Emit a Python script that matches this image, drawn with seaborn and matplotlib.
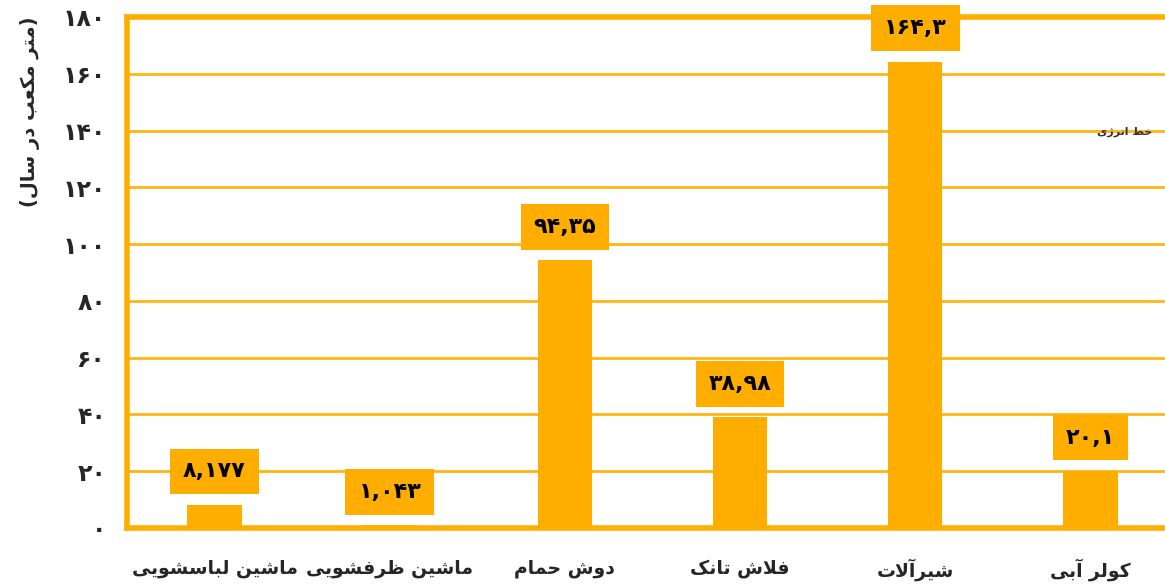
import matplotlib
matplotlib.use("Agg")
import matplotlib.pyplot as plt
import seaborn as sns
import pandas as pd

# داده‌ها
categories = ["ماشین لباسشویی", "ماشین ظرفشویی", "دوش حمام", "فلاش تانک", "شیرآلات", "کولر آبی"]
values = [8.177, 1.043, 94.35, 38.98, 164.3, 20.1]
value_labels = ["۸,۱۷۷", "۱,۰۴۳", "۹۴,۳۵", "۳۸,۹۸", "۱۶۴,۳", "۲۰,۱"]
y_ticks = [0, 20, 40, 60, 80, 100, 120, 140, 160, 180]
y_tick_labels = ["۰", "۲۰", "۴۰", "۶۰", "۸۰", "۱۰۰", "۱۲۰", "۱۴۰", "۱۶۰", "۱۸۰"]
y_title = "(متر مکعب در سال)"
logo_text = "خط انرژی"

# شکل‌دهی ساده حروف فارسی (matplotlib خودش اتصال حروف را انجام نمی‌دهد)
FORMS = {
    "ا": (0xFE8D, 0xFE8E, None, None), "آ": (0xFE81, 0xFE82, None, None),
    "د": (0xFEA9, 0xFEAA, None, None), "ر": (0xFEAD, 0xFEAE, None, None),
    "ژ": (0xFB8A, 0xFB8B, None, None), "و": (0xFEED, 0xFEEE, None, None),
    "ب": (0xFE8F, 0xFE90, 0xFE91, 0xFE92), "ت": (0xFE95, 0xFE96, 0xFE97, 0xFE98),
    "ح": (0xFEA1, 0xFEA2, 0xFEA3, 0xFEA4), "خ": (0xFEA5, 0xFEA6, 0xFEA7, 0xFEA8),
    "س": (0xFEB1, 0xFEB2, 0xFEB3, 0xFEB4), "ش": (0xFEB5, 0xFEB6, 0xFEB7, 0xFEB8),
    "ط": (0xFEC1, 0xFEC2, 0xFEC3, 0xFEC4), "ظ": (0xFEC5, 0xFEC6, 0xFEC7, 0xFEC8),
    "ع": (0xFEC9, 0xFECA, 0xFECB, 0xFECC), "ف": (0xFED1, 0xFED2, 0xFED3, 0xFED4),
    "ل": (0xFEDD, 0xFEDE, 0xFEDF, 0xFEE0), "م": (0xFEE1, 0xFEE2, 0xFEE3, 0xFEE4),
    "ن": (0xFEE5, 0xFEE6, 0xFEE7, 0xFEE8), "ک": (0xFB8E, 0xFB8F, 0xFB90, 0xFB91),
    "ی": (0xFBFC, 0xFBFD, 0xFBFE, 0xFBFF),
}
LAMALEF = {"ا": (0xFEFB, 0xFEFC), "آ": (0xFEF5, 0xFEF6)}
MIRROR = {"(": ")", ")": "("}


def fa(text):
    out = []
    i = 0
    n = len(text)
    while i < n:
        c = text[i]
        if c not in FORMS:
            out.append(c)
            i += 1
            continue
        prev = text[i - 1] if i > 0 else ""
        join_prev = prev in FORMS and FORMS[prev][2] is not None
        if c == "ل" and i + 1 < n and text[i + 1] in LAMALEF:
            iso, fin = LAMALEF[text[i + 1]]
            out.append(chr(fin if join_prev else iso))
            i += 2
            continue
        nxt = text[i + 1] if i + 1 < n else ""
        iso, fin, ini, med = FORMS[c]
        join_next = ini is not None and nxt in FORMS
        if join_prev and join_next:
            g = med
        elif join_prev:
            g = fin
        elif join_next:
            g = ini
        else:
            g = iso
        out.append(chr(g))
        i += 1
    return "".join(MIRROR.get(ch, ch) for ch in reversed(out))


orange = "#FFAE00"
grid_orange = "#FFB514"

sns.set_theme(style="white")
plt.rcParams["font.family"] = ["DejaVu Sans"]

df = pd.DataFrame({"cat": [fa(c) for c in categories], "val": values})

fig = plt.figure(figsize=(11.65, 5.87), dpi=100)
ax = fig.add_axes([127 / 1165, 1 - 528 / 587, 1051 / 1165, 511 / 587])

sns.barplot(data=df, x="cat", y="val", color=orange, saturation=1, width=0.31,
            linewidth=0, ax=ax, zorder=3)

ax.set_ylim(0, 180)
ax.set_xlim(-0.5, 5.5)
ax.set_yticks(y_ticks)
ax.set_yticklabels(y_tick_labels, fontsize=17, fontweight="bold")
ax.tick_params(axis="y", pad=15, length=0)
ax.tick_params(axis="x", pad=22, length=0, labelsize=13.5)
for t in ax.get_xticklabels():
    t.set_fontweight("bold")

ax.yaxis.grid(True, color=grid_orange, linewidth=2, zorder=0)
ax.set_xlabel("")
ax.set_ylabel(fa(y_title), fontsize=14, fontweight="bold")
ax.yaxis.set_label_coords(-0.083, 0.814)

for side in ["left", "bottom", "top"]:
    ax.spines[side].set_color(orange)
    ax.spines[side].set_linewidth(4)
ax.spines["right"].set_visible(False)

# برچسب مقادیر
for i, (v, lab) in enumerate(zip(values, value_labels)):
    ax.annotate(lab, (i, v), xytext=(0, 24), textcoords="offset points",
                ha="center", va="center", fontsize=16, fontweight="bold",
                color="black", zorder=5,
                bbox=dict(boxstyle="square,pad=0.58", fc=orange, ec="none"))

fig.text(1125 / 1165, 1 - 132 / 587, fa(logo_text), fontsize=8, fontweight="bold",
         ha="center", va="center", color="#333333")

fig.savefig("out.png", dpi=100)
